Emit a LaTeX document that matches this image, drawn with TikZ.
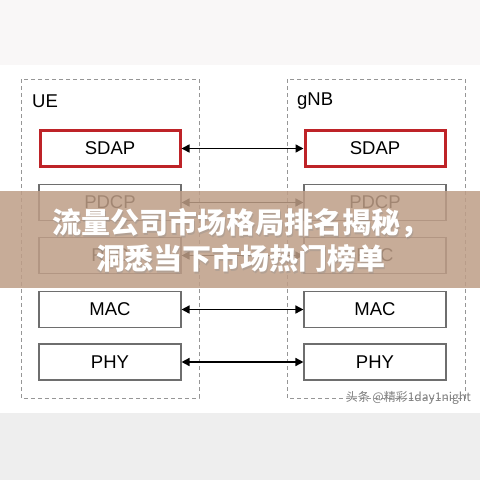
\documentclass[tikz,border=0pt]{standalone}
\usepackage{fontspec}
\setmainfont{Liberation Sans}
\newfontfamily\cjk{Noto Sans CJK SC}
\usetikzlibrary{arrows.meta}
\definecolor{boxgray}{RGB}{110,110,110}
\definecolor{dashgray}{RGB}{150,150,150}
\definecolor{sdapred}{RGB}{190,35,40}
\definecolor{banner}{RGB}{190,158,135}
\definecolor{topbg}{RGB}{249,247,247}
\definecolor{botbg}{RGB}{238,238,238}
\tikzset{
  layer/.style={draw=boxgray,line width=1.1pt,minimum width=142pt,minimum height=36pt,inner sep=0pt,font=\fontsize{18.5}{20}\selectfont},
  redlayer/.style={layer,draw=sdapred,line width=3pt,minimum width=140pt,minimum height=36pt},
  entity/.style={draw=dashgray,dash pattern=on 4pt off 3pt,line width=0.8pt},
  link/.style={{Triangle[length=8pt,width=8pt]}-{Triangle[length=8pt,width=8pt]},line width=1.6pt,black},
  lbl/.style={anchor=west,font=\fontsize{18.5}{20}\selectfont,inner sep=0pt}
}
\begin{document}
\begin{tikzpicture}[x=1pt,y=-1pt]
\useasboundingbox (0,0) rectangle (480,480);
\fill[white] (0,0) rectangle (480,480);
\fill[topbg] (0,0) rectangle (480,65);
\fill[botbg] (0,413) rectangle (480,480);
% entities
\draw[entity] (21,79) rectangle (199,398);
\draw[entity] (287,79) rectangle (465,398);
\node[lbl] (ue) at (32,101) {UE};
\node[lbl] (gnb) at (297,101) {gNB};
% UE stack
\node[redlayer] (us) at (110,148.5) {SDAP};
\node[layer] (up) at (110,202.5) {PDCP};
\node[layer] (ur) at (110,255.5) {RLC};
\node[layer] (um) at (110,309.5) {MAC};
\node[layer] (uy) at (110,362) {PHY};
% gNB stack
\node[redlayer] (gs) at (375,148.5) {SDAP};
\node[layer] (gp) at (375,202.5) {PDCP};
\node[layer] (gr) at (375,255.5) {RLC};
\node[layer] (gm) at (375,309.5) {MAC};
\node[layer] (gy) at (375,362) {PHY};
% links
\draw[link] (us) -- (gs);
\draw[link] (up) -- (gp);
\draw[link] (ur) -- (gr);
\draw[link] (um) -- (gm);
\draw[link] (uy) -- (gy);
% watermark
\node[anchor=east,inner sep=0pt,text=gray,font=\cjk\fontsize{12}{13}\selectfont] (wm) at (471,398) {头条 @精彩1day1night};
% banner
\fill[banner,opacity=0.85] (0,191) rectangle (480,288);
\node[text=black!45,opacity=0.35,font=\cjk\bfseries\fontsize{29}{36}\selectfont,align=center,inner sep=0pt] (shadow) at (242,242) {流量公司市场格局排名揭秘，\\洞悉当下市场热门榜单};
\node[text=white,font=\cjk\bfseries\fontsize{29}{36}\selectfont,align=center,inner sep=0pt] (title) at (241,240) {流量公司市场格局排名揭秘，\\洞悉当下市场热门榜单};
\end{tikzpicture}
\end{document}
